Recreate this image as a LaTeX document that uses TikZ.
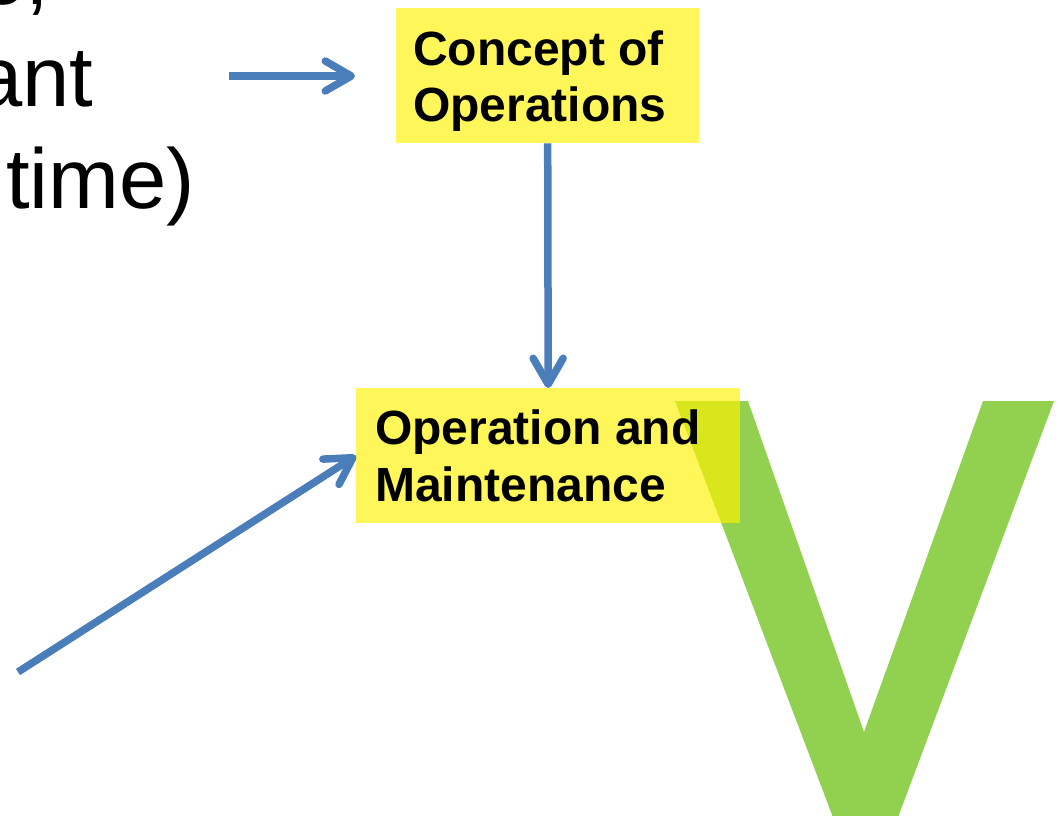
\documentclass[tikz,border=0pt]{standalone}
\usepackage{fontspec}
\setmainfont{Liberation Sans}
\usetikzlibrary{arrows.meta}
\definecolor{flowblue}{HTML}{4A7EBB}
\definecolor{vgreen}{HTML}{92D050}
\begin{document}
\begin{tikzpicture}[x=1pt,y=-1pt,
  flow/.style={draw=flowblue, line width=7.5pt,
    -{Straight Barb[length=26pt,width=30pt,round]}},
  stagebox/.style={fill=yellow, fill opacity=0.65, draw=none,
    inner sep=0pt, anchor=north west},
  boxtext/.style={font=\fontsize{48}{56}\selectfont\bfseries,
    anchor=base west, inner sep=0pt},
  bigtext/.style={font=\fontsize{85}{102}\selectfont,
    anchor=base west, inner sep=0pt}]
\useasboundingbox (0,0) rectangle (1061,815);
\clip (0,0) rectangle (1061,815);

% large green V
\fill[vgreen] (675,401) -- (748,401) -- (864,732) -- (983,401)
  -- (1054,401) -- (897,820) -- (834,820) -- cycle;

% stage boxes
\node[stagebox, minimum width=303pt, minimum height=135pt] (concept) at (396,8) {};
\node[stagebox, minimum width=384pt, minimum height=135pt] (om) at (356,388) {};

\node[boxtext] (c1) at (413,65) {Concept of};
\node[boxtext] (c2) at (413,121) {Operations};
\node[boxtext] (o1) at (375,444) {Operation and};
\node[boxtext] (o2) at (375,501) {Maintenance};

% body text running in from the left
\node[bigtext] (t1) at (-22,4) {e,};
\node[bigtext] (t2) at (-25,106) {ant};
\node[bigtext] (t3) at (6,208) {time)};

% connectors
\coordinate (a1s) at (229,76);
\coordinate (a1e) at (355,76);
\coordinate (a3s) at (18,672);
\draw[flow] (a1s) -- (a1e);
\draw[flow] (concept.south) -- (om.north);
\draw[flow] (a3s) -- (om.west);
\end{tikzpicture}
\end{document}
